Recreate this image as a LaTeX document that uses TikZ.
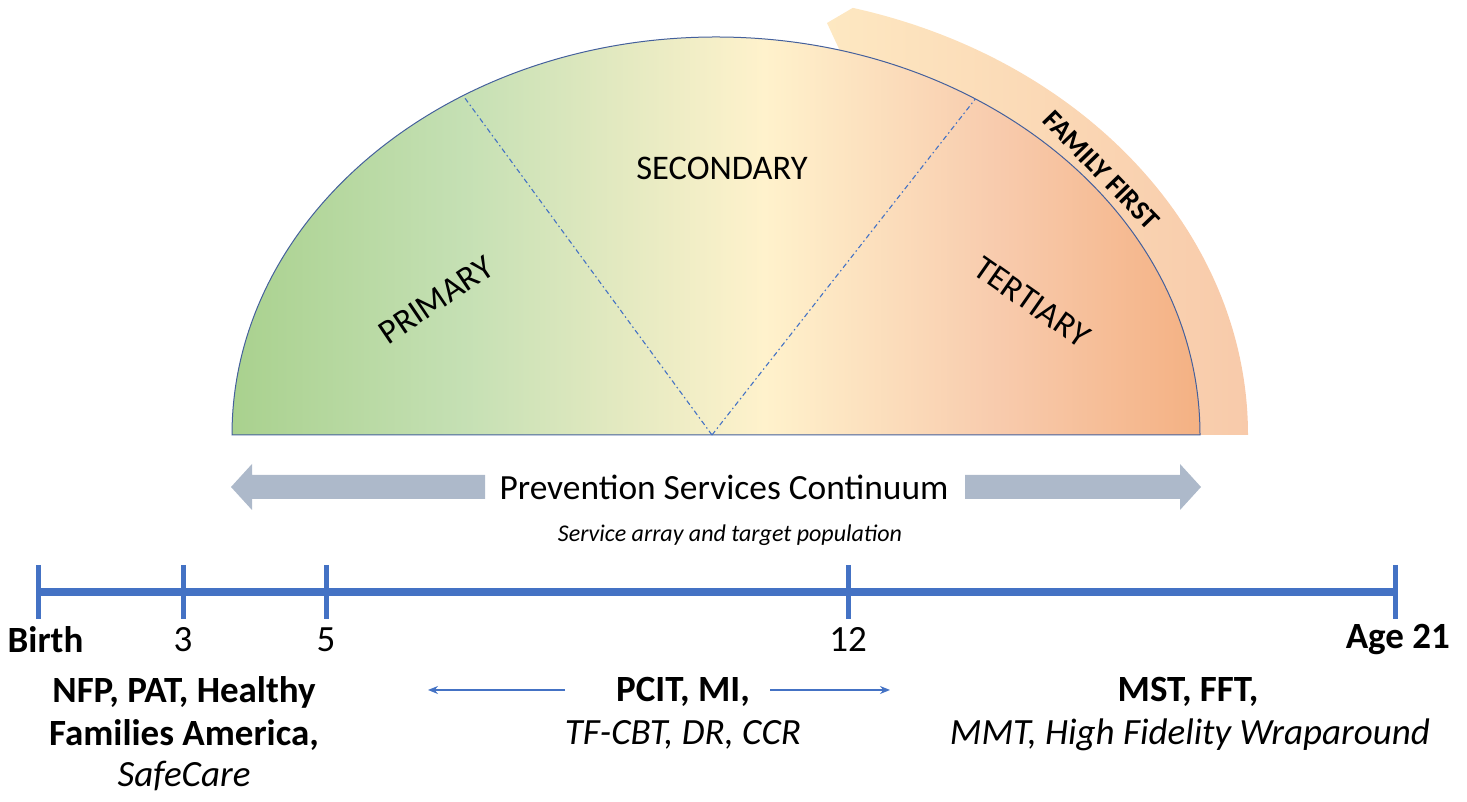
\documentclass[tikz,border=0pt]{standalone}
\usepackage{fontspec}
\setmainfont{Carlito}
\usetikzlibrary{arrows.meta}
\definecolor{gL}{HTML}{A9D18E}
\definecolor{gLtwo}{HTML}{C5E0B4}
\definecolor{gY}{HTML}{FFF2CC}
\definecolor{gOone}{HTML}{F8CBAD}
\definecolor{gR}{HTML}{F4B183}
\definecolor{bandL}{HTML}{FFF0C8}
\definecolor{bandR}{HTML}{F8CAAA}
\definecolor{outline}{HTML}{44609C}
\definecolor{tl}{HTML}{4472C4}
\definecolor{grayarrow}{HTML}{ADB9CA}
\pgfdeclarehorizontalshading{semishade}{100bp}{color(0bp)=(gL); color(25bp)=(gL); color(37bp)=(gLtwo); color(52.5bp)=(gY); color(64.5bp)=(gOone); color(75bp)=(gR); color(100bp)=(gR)}
\tikzset{
  lbl/.style={font=\fontsize{34.5}{40}\selectfont, inner sep=0pt},
  bot/.style={font=\fontsize{37}{42}\selectfont, inner sep=0pt},
  botb/.style={font=\bfseries\fontsize{37}{42}\selectfont, inner sep=0pt},
  boti/.style={font=\itshape\fontsize{37}{42}\selectfont, inner sep=0pt},
  divider/.style={draw=tl, line width=1.1pt, dash pattern=on 5pt off 3pt on 1.5pt off 3pt},
  tick/.style={draw=tl, line width=5pt},
  thinarrow/.style={draw=tl, line width=1.3pt, -{Stealth[length=10pt,width=8pt]}},
}
\begin{document}
\begin{tikzpicture}[x=1pt,y=1pt]
\useasboundingbox (0,0) rectangle (1467,802);
% FAMILY FIRST band
\coordinate (c) at (716,367);
\path[left color=bandL, right color=bandR]
  (c) ++(75.1:532 and 442) coordinate (bandtop)
  arc[start angle=75.1, end angle=0, x radius=532, y radius=442]
  -- (1200,367) arc[start angle=0, end angle=75.2, x radius=484, y radius=398]
  -- (827,779) -- cycle;
% main semi-ellipse
\path[shading=semishade, draw=outline, line width=1pt]
  (232,367) coordinate (baseL)
  arc[start angle=180, end angle=0, x radius=484, y radius=398] coordinate (baseR)
  -- cycle;
\coordinate (apex) at (712,367);
\path (c) ++(121.5:484 and 398) coordinate (divL);
\path (c) ++(57.6:484 and 398) coordinate (divR);
\draw[divider] (apex) -- (divL);
\draw[divider] (apex) -- (divR);
% sector labels
\node[lbl] (secondary) at (722,634) {SECONDARY};
\node[lbl, rotate=34] (primary) at (436,502) {PRIMARY};
\node[lbl, rotate=-35] (tertiary) at (1032,500) {TERTIARY};
\node[font=\bfseries\fontsize{28}{32}\selectfont, inner sep=0pt, rotate=-46] (ff) at (1101,632) {FAMILY FIRST};
% gray double arrow
\fill[grayarrow] (231,315) -- (252,338) -- (252,327) -- (485,327) -- (485,303) -- (252,303) -- (252,292) -- cycle;
\fill[grayarrow] (1201,315) -- (1180,338) -- (1180,327) -- (965,327) -- (965,303) -- (1180,303) -- (1180,292) -- cycle;
\node[font=\fontsize{35.4}{40}\selectfont, inner sep=0pt] (psc) at (724,315) {Prevention Services Continuum};
\node[font=\itshape\fontsize{24}{28}\selectfont, inner sep=0pt] (sat) at (730,267) {Service array and target population};
% timeline
\coordinate (t0) at (38,210);
\coordinate (t21) at (1395,210);
\draw[draw=tl, line width=8pt] (t0) -- (t21);
\foreach \x in {38,183,326,848,1395}{
  \draw[tick] (\x,237) -- (\x,183);
}
\node[botb] (birth) at (45.5,162) {Birth};
\node[bot] (three) at (183,162) {3};
\node[bot] (five) at (326,162) {5};
\node[bot] (twelve) at (848,162) {12};
\node[botb, anchor=east] (age) at (1450,162) {Age 21};
% program groups
\node[botb] (g1a) at (184,110) {NFP, PAT, Healthy};
\node[botb] (g1b) at (184,67) {Families America,};
\node[boti] (g1c) at (184,26) {SafeCare};
\node[botb] (g2a) at (683,110) {PCIT, MI,};
\node[boti] (g2b) at (683,67) {TF-CBT, DR, CCR};
\node[botb] (g3a) at (1188,110) {MST, FFT,};
\node[boti] (g3b) at (1190,67) {MMT, High Fidelity Wraparound};
\coordinate (al) at (428,112);
\coordinate (ar) at (890,112);
\draw[thinarrow] (565,112) -- (al);
\draw[thinarrow] (770,112) -- (ar);
\end{tikzpicture}
\end{document}
